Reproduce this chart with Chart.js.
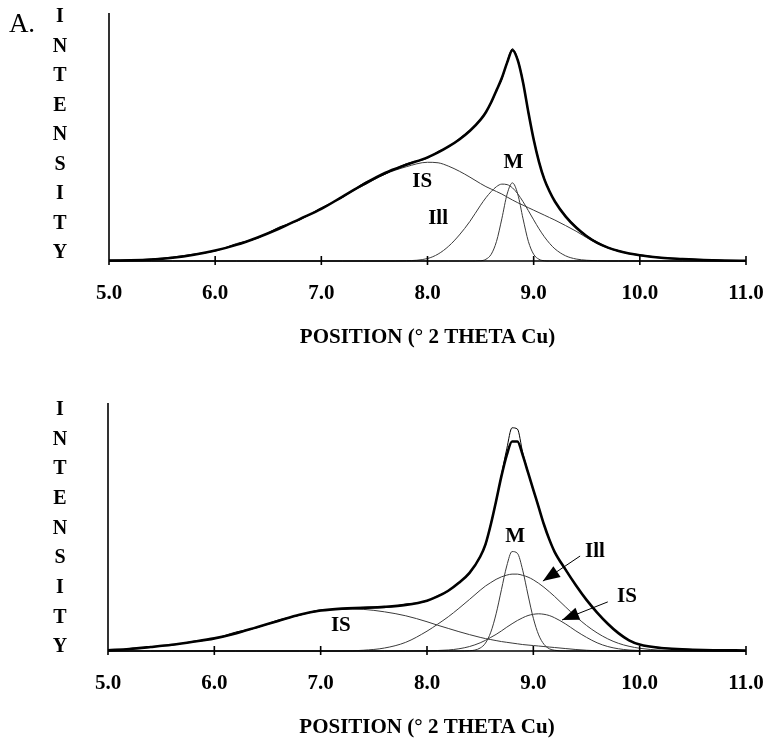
<!DOCTYPE html>
<html>
<head>
<meta charset="utf-8">
<script src="https://cdn.jsdelivr.net/npm/chart.js@4.4.1/dist/chart.umd.min.js"></script>
<style>
html, body { margin: 0; padding: 0; background: #fff; overflow: hidden; }
#wrap { position: relative; width: 767px; height: 739px; }
canvas { position: absolute; left: 0; }
#topChart { top: 0; }
#bottomChart { top: 390px; }
</style>
</head>
<body>
<div id="wrap">
  <canvas id="topChart" width="767" height="354"></canvas>
  <canvas id="bottomChart" width="767" height="354"></canvas>
</div>
<script>
// positions (deg 2-theta), denser around the 8.8 peak
const twoTheta = [5.0, 5.2, 5.4, 5.6, 5.8, 6.0, 6.2, 6.4, 6.6, 6.8, 7.0, 7.2, 7.4, 7.6, 7.8,
  8.0, 8.1, 8.2, 8.3, 8.4,
  8.5, 8.55, 8.6, 8.65, 8.7, 8.75, 8.8, 8.85, 8.9, 8.95, 9.0, 9.05, 9.1, 9.15, 9.2,
  9.3, 9.4, 9.5, 9.6, 9.7, 9.8, 9.9, 10.0,
  10.2, 10.4, 10.6, 10.8, 11.0];
const xTicks = [5, 6, 7, 8, 9, 10, 11];

// top pattern
const topObserved = [0.3, 0.4, 0.8, 1.6, 2.8, 4.0, 7.0, 9.2, 13.6, 16.6, 21.5, 25.6, 31.4, 35.0, 39.2,
  41.4, 44.2, 46.0, 49.4, 52.8,
  57.3, 60.2, 63.6, 68.8, 73.2, 80.4, 85.6, 81.4, 72.4, 59.6, 49.4, 40.4, 33.4, 28.4, 24.2,
  18.4, 13.8, 10.2, 7.6, 5.5, 4.2, 3.1, 2.5,
  1.4, 0.9, 0.5, 0.2, 0.1];
const topFit = [0.2, 0.3, 0.6, 1.3, 2.5, 4.2, 6.5, 9.5, 13, 17, 21, 26, 31, 35.5, 38.8,
  41.8, 43.8, 46.2, 49, 52.5,
  57, 60, 64, 68.8, 73.8, 80, 85, 81, 72, 60, 49, 40, 33, 28, 24,
  18, 13.5, 10, 7.3, 5.4, 4, 3, 2.3,
  1.3, 0.8, 0.4, 0.2, 0.1];
const topIS = [0.2, 0.3, 0.6, 1.3, 2.5, 4.2, 6.5, 9.5, 13, 17, 21, 26, 30.5, 35, 38,
  39.8, 39.6, 38.2, 36.2, 33.8,
  31.2, 30, 29, 28, 27, 25.8, 24.6, 23.5, 22.5, 21.5, 20.5, 19.5, 18.5, 17.5, 16.5,
  14.3, 12, 9.4, 7, 5.2, 3.9, 2.9, 2.2,
  1.2, 0.7, 0.4, 0.2, 0.1];
const topIll = [0, 0, 0, 0, 0, 0, 0, 0, 0, 0, 0, 0, 0, 0, 0.1,
  1, 2.8, 6, 10.5, 16,
  22.5, 25.5, 28, 30, 31, 30.8, 29.5, 27.1, 23.9, 20.3, 16.6, 13, 9.8, 7.1, 4.9,
  2.1, 0.8, 0.3, 0.1, 0, 0, 0, 0,
  0, 0, 0, 0, 0];
const topM = [0, 0, 0, 0, 0, 0, 0, 0, 0, 0, 0, 0, 0, 0, 0,
  0, 0, 0, 0, 0,
  0.1, 0.7, 2.7, 7.9, 17, 27, 31.5, 27, 17, 7.9, 2.7, 0.7, 0.1, 0, 0,
  0, 0, 0, 0, 0, 0, 0, 0,
  0, 0, 0, 0, 0];

// bottom pattern
const botObserved = [0.4, 0.7, 1.8, 2.3, 3.9, 5.0, 7.6, 9.4, 12.5, 14.4, 16.6, 16.8, 17.6, 17.6, 18.9,
  20.1, 22.3, 24.1, 27.8, 31.2,
  38.3, 42.6, 51.4, 60.2, 71, 81.5, 90, 89.5, 80, 72.3, 64.6, 58.3, 50.7, 45.3, 39.8,
  33.3, 26.3, 20.8, 15.3, 11.2, 7.1, 4.4, 2.5,
  1.3, 0.8, 0.4, 0.3, 0.2];
const botFit = [0.3, 0.8, 1.6, 2.5, 3.7, 5.1, 7.1, 9.6, 12.1, 14.6, 16.3, 17.1, 17.4, 17.8, 18.6,
  20.3, 22, 24.3, 27.5, 31.5,
  38, 43, 51, 60.5, 70.5, 79, 84.5, 84.5, 79, 72, 65, 58, 51, 45, 40,
  33, 26.5, 20.6, 15.5, 11, 7.2, 4.3, 2.6,
  1.2, 0.7, 0.4, 0.3, 0.2];
const botIS1 = [0.3, 0.8, 1.6, 2.5, 3.6, 5.0, 7.0, 9.5, 12, 14.5, 16.2, 17.0, 16.8, 15.8, 14.2,
  11.8, 10.4, 9.1, 7.8, 6.6,
  5.5, 5.0, 4.6, 4.2, 3.8, 3.5, 3.2, 2.9, 2.6, 2.4, 2.2, 2.0, 1.8, 1.6, 1.4,
  1.0, 0.6, 0.3, 0.1, 0, 0, 0, 0,
  0, 0, 0, 0, 0];
const botIll = [0, 0, 0, 0, 0, 0, 0, 0, 0, 0, 0, 0, 0.3, 1.2, 3.5,
  8, 10.8, 13.8, 17.2, 20.8,
  24.5, 26.2, 27.6, 28.9, 29.9, 30.6, 31, 31, 30.5, 29.8, 28.7, 27.3, 25.7, 23.9, 22,
  17.9, 13.9, 10.3, 7.3, 4.9, 3.1, 1.9, 1.1,
  0.3, 0.1, 0, 0, 0];
const botM = [0, 0, 0, 0, 0, 0, 0, 0, 0, 0, 0, 0, 0, 0, 0,
  0, 0, 0, 0, 0.1,
  1.2, 3.2, 7.6, 15, 24.7, 34.3, 40.1, 39.4, 32.6, 22.6, 13.2, 6.5, 2.7, 0.9, 0.3,
  0, 0, 0, 0, 0, 0, 0, 0,
  0, 0, 0, 0, 0];
const botIS2 = [0, 0, 0, 0, 0, 0, 0, 0, 0, 0, 0, 0, 0, 0, 0,
  0.1, 0.2, 0.4, 0.9, 1.8,
  3.3, 4.3, 5.5, 6.7, 8.1, 9.6, 11, 12.3, 13.4, 14.3, 14.8, 15, 14.8, 14.3, 13.4,
  11, 8.1, 5.5, 3.3, 1.8, 0.9, 0.4, 0.2,
  0, 0, 0, 0, 0];

const SERIF = '"Liberation Serif", "DejaVu Serif", serif';

function pts(ys) {
  return twoTheta.map((x, i) => ({ x: x, y: ys[i] }));
}

function thin(ys) {
  return { data: pts(ys), borderColor: '#3a3a3a', borderWidth: 1, order: 3 };
}

// axes, crossing tick marks, stacked y letters, peak names and arrows
const decor = {
  id: 'decor',
  afterDatasetsDraw(chart, args, opts) {
    const { ctx, chartArea: a, scales: { x, y } } = chart;
    ctx.save();
    ctx.strokeStyle = '#000';
    ctx.lineWidth = 1.6;
    ctx.beginPath();
    ctx.moveTo(a.left, a.top);
    ctx.lineTo(a.left, a.bottom);
    ctx.lineTo(a.right, a.bottom);
    x.ticks.forEach(t => {
      const px = x.getPixelForValue(t.value);
      ctx.moveTo(px, a.bottom - 5);
      ctx.lineTo(px, a.bottom + 4);
    });
    ctx.stroke();

    ctx.fillStyle = '#000';
    ctx.textAlign = 'center';
    ctx.textBaseline = 'middle';
    ctx.font = 'bold 20px ' + SERIF;
    const letters = 'INTENSITY'.split('');
    const y0 = a.top + opts.letterTop, y1 = a.bottom - opts.letterBottom;
    letters.forEach((ch, i) => {
      ctx.fillText(ch, 60, y0 + (y1 - y0) * i / (letters.length - 1));
    });

    if (opts.tag) {
      ctx.font = '27px ' + SERIF;
      ctx.fillText(opts.tag, 22, 25);
    }

    ctx.font = 'bold 21px ' + SERIF;
    opts.labels.forEach(l => {
      ctx.fillText(l.text, x.getPixelForValue(l.x), y.getPixelForValue(l.y));
    });

    ctx.lineWidth = 1;
    opts.arrows.forEach(ar => {
      const fx = x.getPixelForValue(ar.from[0]), fy = y.getPixelForValue(ar.from[1]);
      const tx = x.getPixelForValue(ar.to[0]), ty = y.getPixelForValue(ar.to[1]);
      const ang = Math.atan2(ty - fy, tx - fx);
      ctx.beginPath();
      ctx.moveTo(fx, fy);
      ctx.lineTo(tx, ty);
      ctx.stroke();
      const len = 17, half = 6.5;
      const bx = tx - len * Math.cos(ang), by = ty - len * Math.sin(ang);
      ctx.beginPath();
      ctx.moveTo(tx, ty);
      ctx.lineTo(bx + half * Math.sin(ang), by - half * Math.cos(ang));
      ctx.lineTo(bx - half * Math.sin(ang), by + half * Math.cos(ang));
      ctx.closePath();
      ctx.fill();
    });
    ctx.restore();
  }
};

function makeChart(id, series, yAxisLeft, deco) {
  return new Chart(document.getElementById(id), {
    type: 'line',
    data: { datasets: series },
    options: {
      responsive: false,
      animation: false,
      events: [],
      layout: { padding: { left: 0, top: 13, right: 767 - 746, bottom: 0 } },
      elements: {
        point: { radius: 0 },
        line: { cubicInterpolationMode: 'monotone', fill: false }
      },
      datasets: { line: { clip: 6 } },
      scales: {
        x: {
          type: 'linear',
          min: 5,
          max: 11,
          afterBuildTicks: s => { s.ticks = xTicks.map(v => ({ value: v })); },
          ticks: {
            callback: v => v.toFixed(1),
            color: '#000',
            padding: 20,
            maxRotation: 0,
            font: { family: SERIF, size: 21, weight: 'bold' }
          },
          grid: { display: false, drawTicks: false },
          border: { display: false },
          title: {
            display: true,
            text: 'POSITION (° 2 THETA Cu)',
            color: '#000',
            padding: { top: 4, bottom: 4 },
            font: { family: SERIF, size: 21, weight: 'bold' }
          },
          // fixed height, and no extra room reserved for the end labels
          afterFit: s => {
            s.height = 354 - 261;
            s.paddingLeft = 0;
            s.paddingRight = 0;
          }
        },
        y: {
          min: 0,
          max: 100,
          ticks: { display: false },
          grid: { display: false, drawTicks: false },
          border: { display: false },
          afterFit: s => { s.width = yAxisLeft; }
        }
      },
      plugins: {
        legend: { display: false },
        tooltip: { enabled: false },
        decor: deco
      }
    },
    plugins: [decor]
  });
}

makeChart('topChart', [
  thin(topIS),
  thin(topIll),
  thin(topM),
  { data: pts(topObserved), borderColor: '#000', borderWidth: 1, order: 2 },
  { data: pts(topFit), borderColor: '#000', borderWidth: 2.6, order: 1 }
], 109, {
  tag: 'A.',
  letterTop: 4,
  letterBottom: 8,
  labels: [
    { text: 'IS', x: 7.95, y: 31.9 },
    { text: 'Ill', x: 8.10, y: 17.3 },
    { text: 'M', x: 8.81, y: 39.5 }
  ],
  arrows: []
});

makeChart('bottomChart', [
  thin(botIS1),
  thin(botIll),
  thin(botM),
  thin(botIS2),
  { data: pts(botObserved), borderColor: '#000', borderWidth: 1, order: 2 },
  { data: pts(botFit), borderColor: '#000', borderWidth: 2.6, order: 1 }
], 108, {
  tag: '',
  letterTop: 7,
  letterBottom: 4,
  labels: [
    { text: 'M', x: 8.83, y: 46 },
    { text: 'Ill', x: 9.58, y: 39.9 },
    { text: 'IS', x: 9.88, y: 21.8 },
    { text: 'IS', x: 7.19, y: 10.1 }
  ],
  arrows: [
    { from: [9.44, 38.3], to: [9.09, 28.2] },
    { from: [9.70, 19.8], to: [9.27, 12.5] }
  ]
});
</script>
</body>
</html>
